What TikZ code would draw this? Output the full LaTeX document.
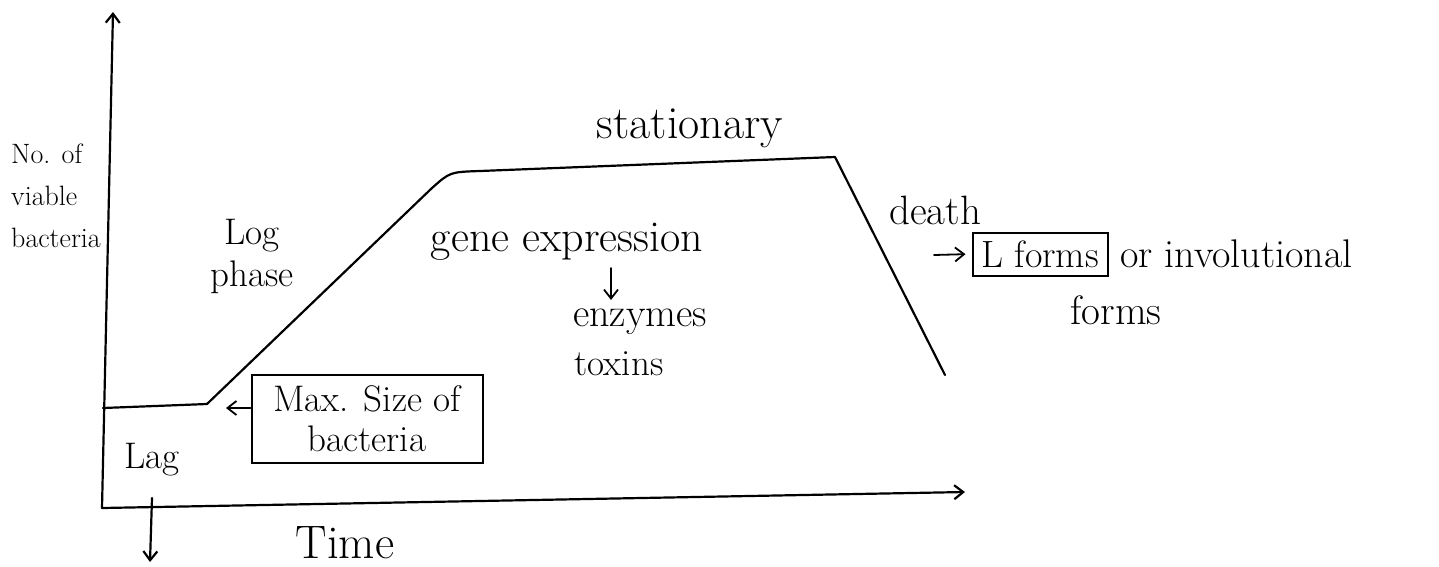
\documentclass[tikz,border=0pt]{standalone}
\usepackage{fontspec}
\setmainfont{Latin Modern Roman}
\usetikzlibrary{arrows.meta}
\begin{document}
\begin{tikzpicture}[x=1pt,y=-1pt,
  hand/.style={line width=2.2pt,line cap=round,line join=round},
  arr/.style={hand,-{Straight Barb[length=9pt,width=14pt]}},
  lbl/.style={inner sep=0pt,align=center},
  boxed/.style={draw,line width=2pt,inner sep=0pt}]
\useasboundingbox (0,0) rectangle (1439,566);
% axes
\coordinate (origin) at (102,508);
\coordinate (ytop) at (113,12);
\coordinate (xend) at (965,492);
\draw[arr] (origin) -- (ytop);
\draw[arr] (origin) -- (xend);
% growth curve
\draw[hand] (103,408) -- (207,404) -- (432,188) .. controls (450,172) .. (480,171) -- (835,157) -- (945,375);
% labels
\node[lbl,align=left,font=\fontsize{28}{42}\selectfont] (ylab) at (56,196) {No. of\\viable\\bacteria};
\node[lbl,font=\fontsize{37}{42}\selectfont] (log) at (252,256) {Log\\phase};
\node[lbl,font=\fontsize{46}{50}\selectfont] (stat) at (690,128) {stationary};
\node[lbl,font=\fontsize{44}{50}\selectfont] (gene) at (567,242) {gene expression};
\node[lbl,font=\fontsize{40}{46}\selectfont] (enz) at (640,322) {enzymes};
\node[lbl,font=\fontsize{37}{42}\selectfont] (tox) at (619,364) {toxins};
\draw[arr,line width=1.8pt] (611,268) -- (611,300);
\node[lbl,font=\fontsize{41}{46}\selectfont] (death) at (935,210) {death};
\node[boxed,minimum width=135pt,minimum height=43pt,font=\fontsize{38}{42}\selectfont] (lforms) at (1040,254) {L forms};
\coordinate (dstart) at (934,255);
\draw[arr,line width=1.8pt,shorten >=6pt] (dstart) -- (lforms.west);
\node[lbl,anchor=west,font=\fontsize{40}{46}\selectfont] (invol) at (1120,254) {or involutional};
\node[lbl,font=\fontsize{41}{46}\selectfont] (forms2) at (1116,310) {forms};
\node[boxed,minimum width=231pt,minimum height=88pt,font=\fontsize{37}{40}\selectfont,align=center] (max) at (367,419) {Max. Size of\\bacteria};
\coordinate (lagend) at (226,408);
\draw[arr,line width=1.8pt] (max.west |- lagend) -- (lagend);
\node[lbl,font=\fontsize{37}{42}\selectfont] (lag) at (152,460) {Lag};
\coordinate (lagtop) at (152,498);
\coordinate (lagbot) at (150,562);
\draw[arr] (lagtop) -- (lagbot);
\node[lbl,font=\fontsize{47}{52}\selectfont] (time) at (345,543) {Time};
\end{tikzpicture}
\end{document}
